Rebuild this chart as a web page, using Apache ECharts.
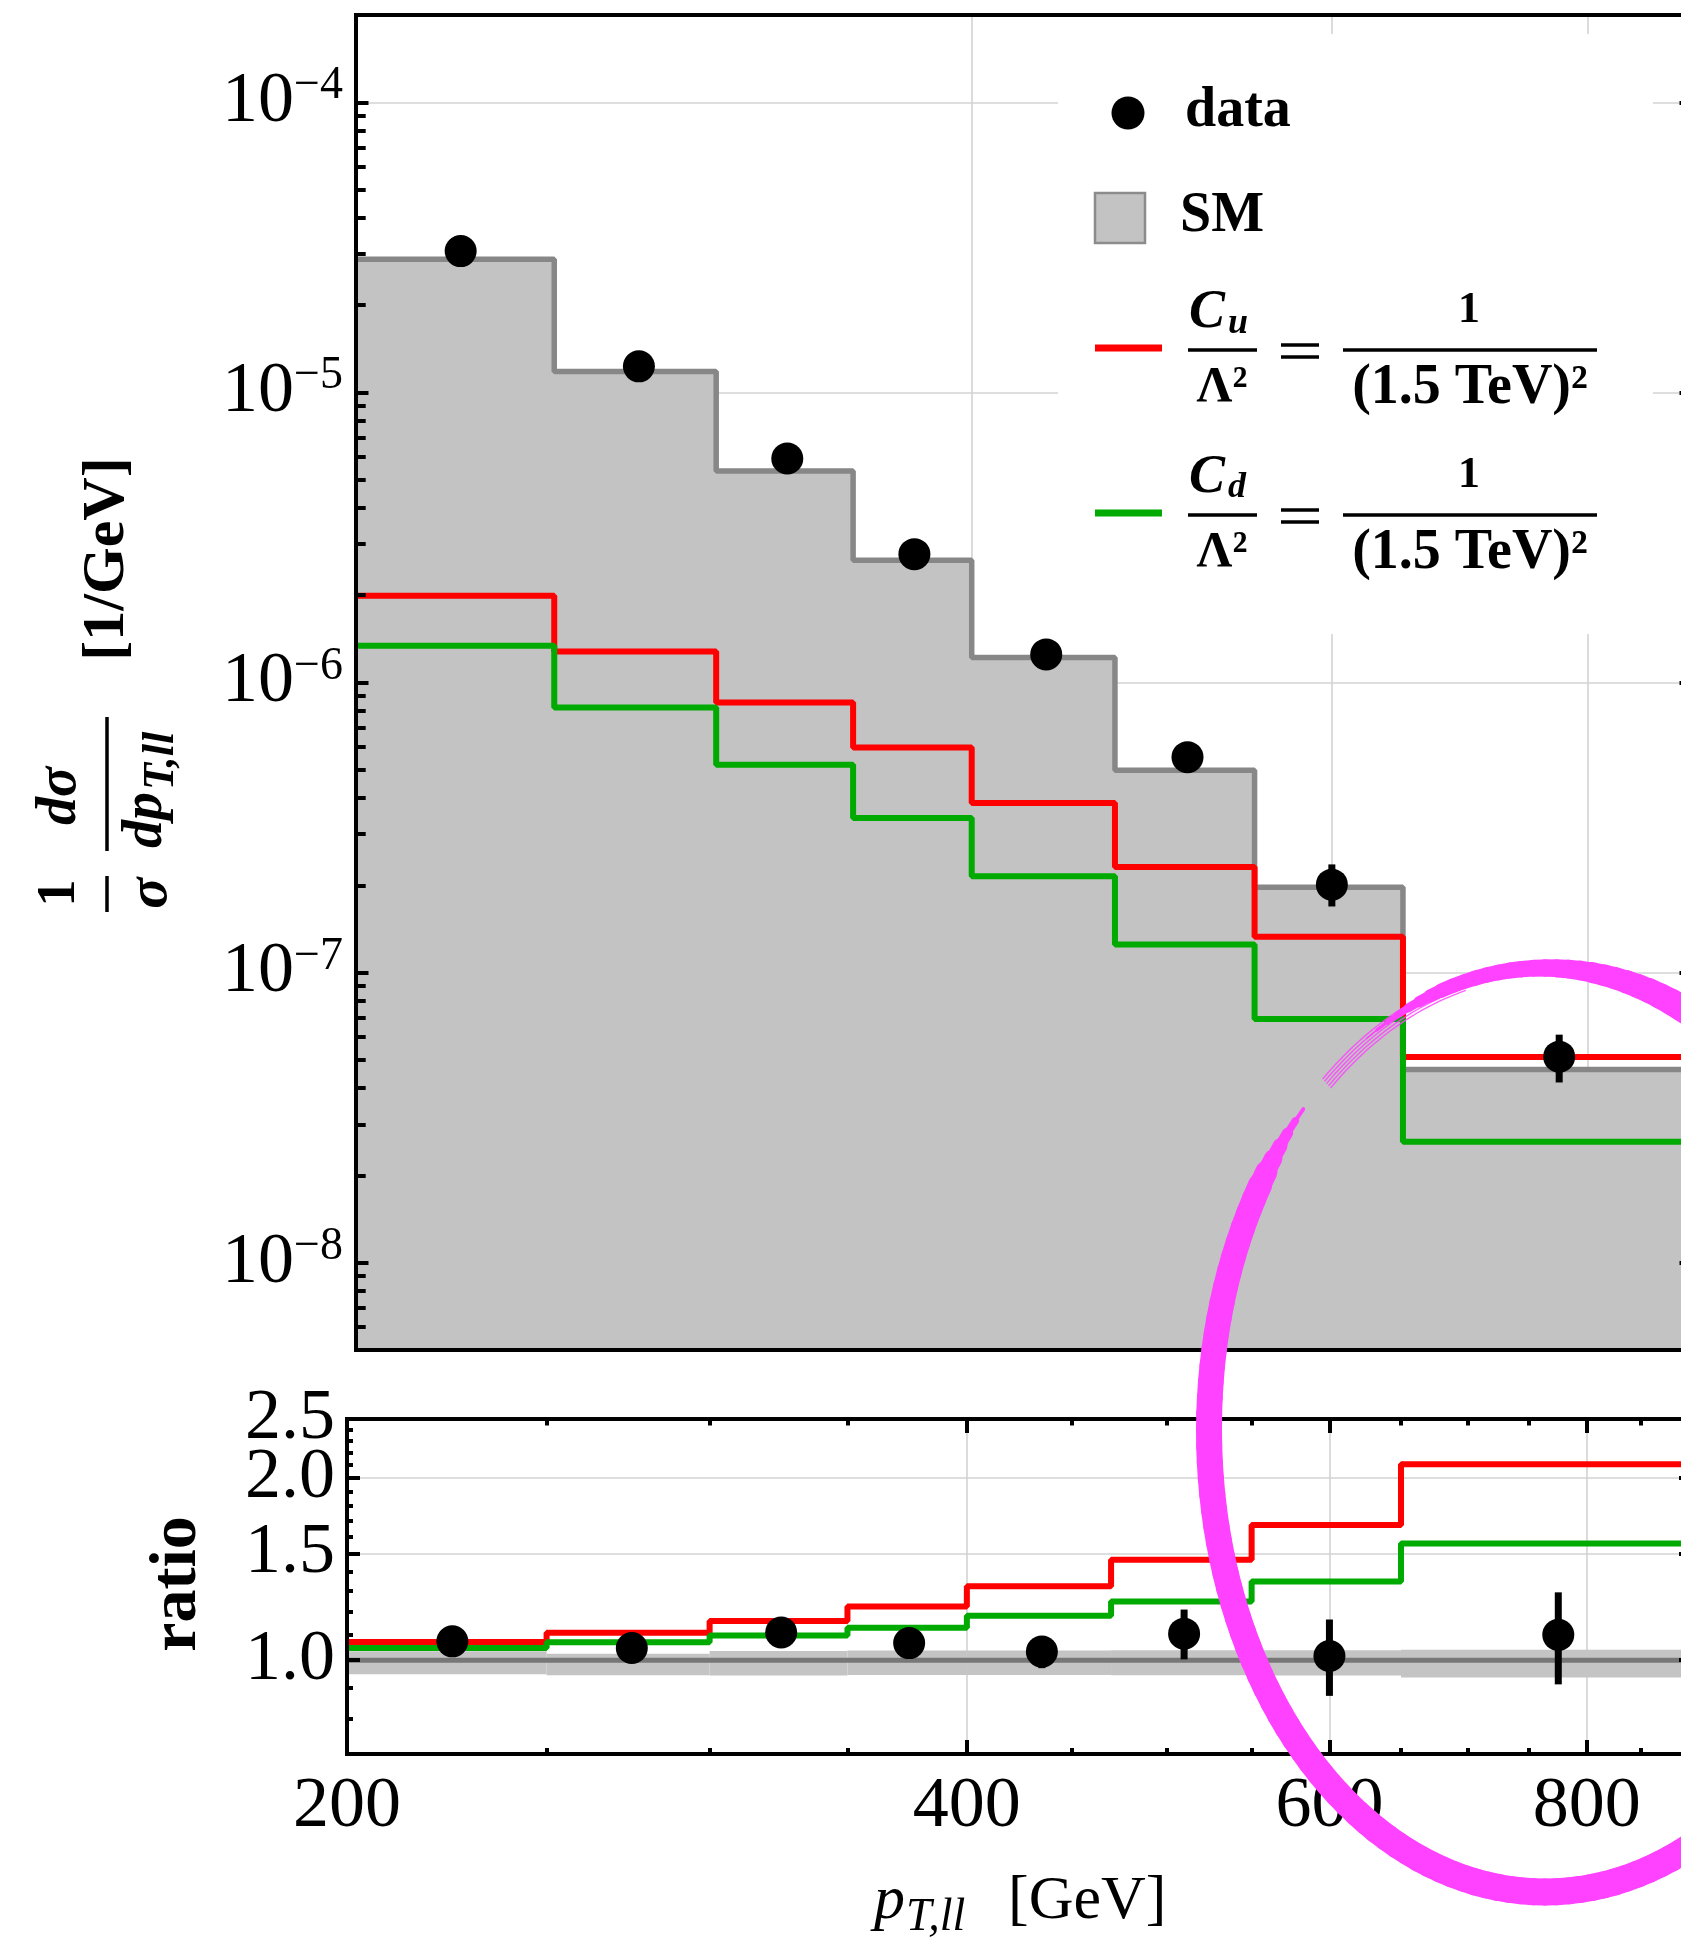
<!DOCTYPE html>
<html>
<head>
<meta charset="utf-8">
<title>pT,ll distribution</title>
<script src="https://cdn.jsdelivr.net/npm/echarts@6.0.0/dist/echarts.min.js"></script>
<style>
  html, body { margin: 0; padding: 0; background: #fff; }
  #main { width: 1681px; height: 1941px; }
</style>
</head>
<body>
<div id="main"></div>
<script>
// bins in p_T,ll [GeV]
var binEdges = [200, 250, 300, 350, 400, 470, 550, 650, 900];
var binCenters = [225, 275, 325, 375, 435, 510, 600, 775];

// 1/sigma dsigma/dp_T,ll [1/GeV]
var smDist = [2.88e-5, 1.18e-5, 5.36e-6, 2.64e-6, 1.22e-6, 4.98e-7, 1.97e-7, 4.63e-8];
var cuDist = [1.99e-6, 1.28e-6, 8.53e-7, 5.97e-7, 3.84e-7, 2.31e-7, 1.33e-7, 5.12e-8];
var cdDist = [1.34e-6, 8.2e-7, 5.21e-7, 3.41e-7, 2.15e-7, 1.25e-7, 6.92e-8, 2.61e-8];
var dataDist = [3.07e-5, 1.23e-5, 5.92e-6, 2.77e-6, 1.25e-6, 5.53e-7, 2.01e-7, 5.13e-8];
var dataDistLo = [3.0e-5, 1.2e-5, 5.7e-6, 2.65e-6, 1.18e-6, 5.0e-7, 1.69e-7, 4.18e-8];
var dataDistHi = [3.14e-5, 1.26e-5, 6.15e-6, 2.9e-6, 1.33e-6, 6.1e-7, 2.36e-7, 6.11e-8];

// ratio to SM
var smRatio = [1, 1, 1, 1, 1, 1, 1, 1];
var smBandLo = [0.948, 0.944, 0.943, 0.945, 0.945, 0.944, 0.943, 0.936];
var smBandHi = [1.034, 1.025, 1.035, 1.037, 1.037, 1.038, 1.038, 1.040];
var cuRatio = [1.071, 1.110, 1.160, 1.226, 1.324, 1.464, 1.671, 2.105];
var cdRatio = [1.047, 1.070, 1.098, 1.131, 1.184, 1.250, 1.348, 1.558];
var dataRatio = [1.074, 1.047, 1.111, 1.067, 1.033, 1.106, 1.016, 1.101];
var dataRatioLo = [1.05, 1.02, 1.08, 1.03, 0.97, 1.003, 0.873, 0.912];
var dataRatioHi = [1.10, 1.075, 1.145, 1.105, 1.09, 1.212, 1.167, 1.294];

// ticks
var xLabelTicks = [200, 400, 600, 800];
var xMajorTicks = [400, 600, 800];
var xMinorTicks = [250, 300, 350, 450, 500, 550, 650, 700, 750, 850];
var yDecades = [1e-8, 1e-7, 1e-6, 1e-5, 1e-4];
var yMinor = [6e-9, 7e-9, 8e-9, 9e-9,
  2e-8, 3e-8, 4e-8, 5e-8, 6e-8, 7e-8, 8e-8, 9e-8,
  2e-7, 3e-7, 4e-7, 5e-7, 6e-7, 7e-7, 8e-7, 9e-7,
  2e-6, 3e-6, 4e-6, 5e-6, 6e-6, 7e-6, 8e-6, 9e-6,
  2e-5, 3e-5, 4e-5, 5e-5, 6e-5, 7e-5, 8e-5, 9e-5];
var ratioTicks = [1.0, 1.5, 2.0, 2.5];
var ratioLabelsLow = [1.0, 1.5, 2.0];
var ratioLabelsTop = [2.5];
var ratioMinor = [0.8, 0.9, 1.1, 1.2, 1.3, 1.4, 1.6, 1.7, 1.8, 1.9, 2.1, 2.2, 2.3, 2.4];

var XMIN = 199.99, XMAX = 900;
var YMIN = 5e-9, YMAX = 2e-4;
var RMIN = 0.6999, RMAX = 2.501;
var F = '"Liberation Serif", "Times New Roman", serif';

function stepData(vals) {
  return binEdges.map(function (e, i) { return [e, vals[Math.min(i, vals.length - 1)]]; });
}

function splitAxis(grid, min, max, pos, ticks) {
  return {
    type: 'log', logBase: 10, gridIndex: grid, min: min, max: max, position: pos, offset: 0, z: 0,
    axisLine: { show: false, onZero: false },
    axisTick: { show: false, customValues: ticks },
    axisLabel: { show: false },
    splitLine: { show: true, lineStyle: { color: '#d3d3d3', width: 1.6 } },
    minorTick: { show: false }, minorSplitLine: { show: false }
  };
}

function frameAxis(grid, min, max, pos, ticks, len, withLine) {
  return {
    type: 'log', logBase: 10, gridIndex: grid, min: min, max: max, position: pos, offset: 0, z: 10,
    axisLine: { show: !!withLine, onZero: false, lineStyle: { color: '#000', width: 4, cap: 'square' } },
    axisTick: ticks ? { show: true, inside: true, length: len, customValues: ticks,
      lineStyle: { color: '#000', width: 4 } } : { show: false },
    axisLabel: { show: false },
    splitLine: { show: false },
    minorTick: { show: false }, minorSplitLine: { show: false }
  };
}

// x axis with tick labels (bottom of ratio panel)
var xLab = frameAxis(1, XMIN, XMAX, 'bottom', xMajorTicks, 14, true);
xLab.axisLabel = { show: true, customValues: xLabelTicks, margin: 17, color: '#000', hideOverlap: false,
  fontFamily: F, fontSize: 72, formatter: function (v) { return String(Math.round(v)); } };

// y axis with 10^n labels
var yLab = frameAxis(0, YMIN, YMAX, 'left', yDecades, 12.5, true);
yLab.axisLabel = {
  show: true, customValues: yDecades, margin: 13, hideOverlap: false,
  formatter: function (v) {
    var e = Math.round(Math.log(v) / Math.LN10);
    return '{a|10}{b|\u2212' + Math.abs(e) + '}';
  },
  rich: {
    a: { fontFamily: F, fontSize: 72, lineHeight: 78, color: '#000' },
    b: { fontFamily: F, fontSize: 46, lineHeight: 46, verticalAlign: 'top', color: '#000' }
  }
};

// ratio labels: 2.5 sits on its own axis so it is not dropped next to 2.0
function ratioLabelAxis(values, ticks, len) {
  var ax = frameAxis(1, RMIN, RMAX, 'left', ticks, len, !!ticks);
  ax.axisLabel = { show: true, customValues: values, margin: 12, color: '#000', hideOverlap: false,
    fontFamily: F, fontSize: 72, lineHeight: 56, formatter: function (v) { return v.toFixed(1); } };
  return ax;
}

function errBar(params, api) {
  var lo = api.coord([api.value(0), api.value(1)]);
  var hi = api.coord([api.value(0), api.value(2)]);
  return { type: 'line', shape: { x1: lo[0], y1: lo[1], x2: hi[0], y2: hi[1] },
    style: { stroke: '#000', lineWidth: 7 } };
}

function bandRect(params, api) {
  var p1 = api.coord([api.value(0), api.value(3)]);
  var p2 = api.coord([api.value(1), api.value(2)]);
  return { type: 'rect', shape: { x: p1[0], y: p1[1], width: p2[0] - p1[0], height: p2[1] - p1[1] },
    style: { fill: '#c4c4c4' } };
}

// ---- decorations: texts, legend, annotation ring
function txt(x, y, text, font, align, extra) {
  var el = { type: 'text', x: x, y: y, z: 20, silent: true,
    style: { text: text, font: font, fill: '#000', textAlign: align || 'left', textVerticalAlign: 'middle' } };
  return Object.assign(el, extra || {});
}
function seg(x1, y1, x2, y2, w, color) {
  return { type: 'line', z: 20, silent: true, shape: { x1: x1, y1: y1, x2: x2, y2: y2 },
    style: { stroke: color || '#000', lineWidth: w } };
}

var graphics = [];
// legend background
graphics.push({ type: 'rect', z: 1, silent: true, shape: { x: 1058, y: 34, width: 595, height: 600 }, style: { fill: '#fff' } });
graphics.push({ type: 'circle', z: 20, silent: true, shape: { cx: 1128, cy: 113, r: 16.5 }, style: { fill: '#000' } });
graphics.push(txt(1185, 112, 'data', 'bold 56px ' + F));
graphics.push({ type: 'rect', z: 20, silent: true, shape: { x: 1095, y: 193, width: 50, height: 50 },
  style: { fill: '#c3c3c3', stroke: '#8c8c8c', lineWidth: 2.5 } });
graphics.push(txt(1180, 217, 'SM', 'bold 56px ' + F));

var legendRows = [{ color: '#ff0000', sub: 'u', dy: 0 }, { color: '#00aa00', sub: 'd', dy: 165 }];
legendRows.forEach(function (r) {
  var d = r.dy;
  graphics.push(seg(1095, 348 + d, 1162, 348 + d, 7, r.color));
  graphics.push(txt(1189, 313 + d, 'C', 'italic bold 54px ' + F));
  graphics.push(txt(1228, 324 + d + (r.sub === 'd' ? -1 : 0), r.sub, 'italic bold 36px ' + F));
  graphics.push(seg(1188, 350 + d, 1257, 350 + d, 3.5));
  graphics.push(txt(1222, 388 + d, '\u039B\u00B2', 'bold 50px ' + F, 'center'));
  graphics.push(seg(1281, 345 + d, 1319, 345 + d, 3.5));
  graphics.push(seg(1281, 357 + d, 1319, 357 + d, 3.5));
  graphics.push(txt(1469, 311 + d, '1', 'bold 44px ' + F, 'center'));
  graphics.push(seg(1343, 350 + d, 1597, 350 + d, 3.5));
  graphics.push(txt(1470, 389 + d, '(1.5 TeV)\u00B2', 'bold 56px ' + F, 'center'));
});

// y axis title (rotated)
graphics.push({ type: 'group', x: 107, y: 684, rotation: Math.PI / 2, z: 20, silent: true, children: [
  txt(125, 0, '[1/GeV]', 'bold 60px ' + F, 'center'),
  txt(-209, -47, '1', 'bold 54px ' + F, 'center'),
  seg(-228, 0, -192, 0, 3.5),
  txt(-209, 44, '\u03C3', 'italic bold 58px ' + F, 'center'),
  txt(-112, -46, 'd\u03C3', 'italic bold 56px ' + F, 'center'),
  seg(-167, 0, -33, 0, 3.5),
  txt(-164, 40, 'dp', 'italic bold 56px ' + F, 'left'),
  txt(-106, 55, 'T,ll', 'italic bold 44px ' + F, 'left')
] });
// ratio panel title
graphics.push(txt(178, 1584, 'ratio', 'bold 66px ' + F, 'center', { rotation: Math.PI / 2 }));
// x axis title
graphics.push(txt(874, 1902, 'p', 'italic 62px ' + F));
graphics.push(txt(906, 1918, 'T,ll', 'italic 46px ' + F));
graphics.push(txt(1008, 1902, '[GeV]', '62px ' + F));

// hand drawn magenta ring
var ringNodes = [[224, 2], [212, 24], [180, 26], [90, 27], [0, 26], [-66, 27], [-90, 17],
  [-108, 14], [-116, 6], [-121, 1.5]];
function ringWidth(d) {
  for (var i = 0; i < ringNodes.length - 1; i++) {
    var a = ringNodes[i], b = ringNodes[i + 1];
    if (d <= a[0] && d >= b[0]) return a[1] + (b[1] - a[1]) * (a[0] - d) / (a[0] - b[0]);
  }
  return 1.5;
}
function ringPt(d, off) {
  var r = d * Math.PI / 180;
  return [1545 + (336 + off) * Math.cos(r), 1430 + (462 + off) * Math.sin(r)];
}
for (var dd = 224; dd > -121; dd -= 2) {
  var p = ringPt(dd, 0), q = ringPt(dd - 2, 0);
  graphics.push({ type: 'line', z: 100, silent: true, shape: { x1: p[0], y1: p[1], x2: q[0], y2: q[1] },
    style: { stroke: '#ff42ff', lineWidth: ringWidth(dd - 1), lineCap: 'round' } });
}
[-9, -6, -3, 0, 3].forEach(function (off) {
  var pts = [];
  for (var d = -104; d >= -131; d -= 1) pts.push(ringPt(d, off));
  graphics.push({ type: 'polyline', z: 100, silent: true, shape: { points: pts },
    style: { stroke: '#ff42ff', lineWidth: 1.4, fill: 'none', opacity: 0.85 } });
});

var chart = echarts.init(document.getElementById('main'));
var option = {
  animation: false,
  backgroundColor: '#fff',
  grid: [
    { left: 356, top: 15, width: 1336, height: 1335, outerBoundsMode: 'none' },
    { left: 347, top: 1419, width: 1345, height: 335, outerBoundsMode: 'none' }
  ],
  xAxis: [
    splitAxis(0, XMIN, XMAX, 'bottom', xMajorTicks),
    frameAxis(0, XMIN, XMAX, 'bottom', null, 0, true),
    frameAxis(0, XMIN, XMAX, 'top', null, 0, true),
    splitAxis(1, XMIN, XMAX, 'bottom', xMajorTicks),
    xLab,
    frameAxis(1, XMIN, XMAX, 'bottom', xMinorTicks, 6, false),
    frameAxis(1, XMIN, XMAX, 'top', xMajorTicks, 14, true),
    frameAxis(1, XMIN, XMAX, 'top', xMinorTicks, 6.5, false)
  ],
  yAxis: [
    splitAxis(0, YMIN, YMAX, 'left', yDecades),
    yLab,
    frameAxis(0, YMIN, YMAX, 'left', yMinor, 9.7, false),
    frameAxis(0, YMIN, YMAX, 'right', yDecades, 12.5, true),
    frameAxis(0, YMIN, YMAX, 'right', yMinor, 9.7, false),
    splitAxis(1, RMIN, RMAX, 'left', ratioTicks),
    ratioLabelAxis(ratioLabelsLow, ratioTicks, 13),
    frameAxis(1, RMIN, RMAX, 'left', ratioMinor, 6, false),
    frameAxis(1, RMIN, RMAX, 'right', ratioTicks, 13, true),
    frameAxis(1, RMIN, RMAX, 'right', ratioMinor, 6, false),
    ratioLabelAxis(ratioLabelsTop, null, 0)
  ],
  series: [
    { name: 'SM', type: 'line', xAxisIndex: 0, yAxisIndex: 0, step: 'end', symbol: 'none', silent: true,
      data: stepData(smDist), lineStyle: { color: '#878787', width: 5.5 },
      areaStyle: { color: '#c3c3c3', opacity: 1, origin: 'start' }, z: 2 },
    { name: 'Cu', type: 'line', xAxisIndex: 0, yAxisIndex: 0, step: 'end', symbol: 'none', silent: true,
      data: stepData(cuDist), lineStyle: { color: '#ff0000', width: 6 }, z: 3 },
    { name: 'Cd', type: 'line', xAxisIndex: 0, yAxisIndex: 0, step: 'end', symbol: 'none', silent: true,
      data: stepData(cdDist), lineStyle: { color: '#00aa00', width: 6 }, z: 3 },
    { name: 'data err', type: 'custom', xAxisIndex: 0, yAxisIndex: 0, renderItem: errBar, silent: true,
      data: binCenters.map(function (x, i) { return [x, dataDistLo[i], dataDistHi[i]]; }),
      encode: { x: 0, y: [1, 2] }, z: 4 },
    { name: 'data', type: 'scatter', xAxisIndex: 0, yAxisIndex: 0, symbolSize: 32, silent: true,
      itemStyle: { color: '#000', opacity: 1 },
      data: binCenters.map(function (x, i) { return [x, dataDist[i]]; }), z: 5 },

    { name: 'SM band', type: 'custom', xAxisIndex: 3, yAxisIndex: 5, renderItem: bandRect, silent: true,
      data: smBandLo.map(function (lo, i) { return [binEdges[i], binEdges[i + 1], lo, smBandHi[i]]; }),
      encode: { x: [0, 1], y: [2, 3] }, z: 2 },
    { name: 'SM ratio', type: 'line', xAxisIndex: 3, yAxisIndex: 5, step: 'end', symbol: 'none', silent: true,
      data: stepData(smRatio), lineStyle: { color: '#777777', width: 5 }, z: 3 },
    { name: 'Cu ratio', type: 'line', xAxisIndex: 3, yAxisIndex: 5, step: 'end', symbol: 'none', silent: true,
      data: stepData(cuRatio), lineStyle: { color: '#ff0000', width: 6 }, z: 4 },
    { name: 'Cd ratio', type: 'line', xAxisIndex: 3, yAxisIndex: 5, step: 'end', symbol: 'none', silent: true,
      data: stepData(cdRatio), lineStyle: { color: '#00aa00', width: 6 }, z: 4 },
    { name: 'data ratio err', type: 'custom', xAxisIndex: 3, yAxisIndex: 5, renderItem: errBar, silent: true,
      data: binCenters.map(function (x, i) { return [x, dataRatioLo[i], dataRatioHi[i]]; }),
      encode: { x: 0, y: [1, 2] }, z: 5 },
    { name: 'data ratio', type: 'scatter', xAxisIndex: 3, yAxisIndex: 5, symbolSize: 32, silent: true,
      itemStyle: { color: '#000', opacity: 1 },
      data: binCenters.map(function (x, i) { return [x, dataRatio[i]]; }), z: 6 }
  ],
  graphic: { elements: graphics }
};
chart.setOption(option);
</script>
</body>
</html>
